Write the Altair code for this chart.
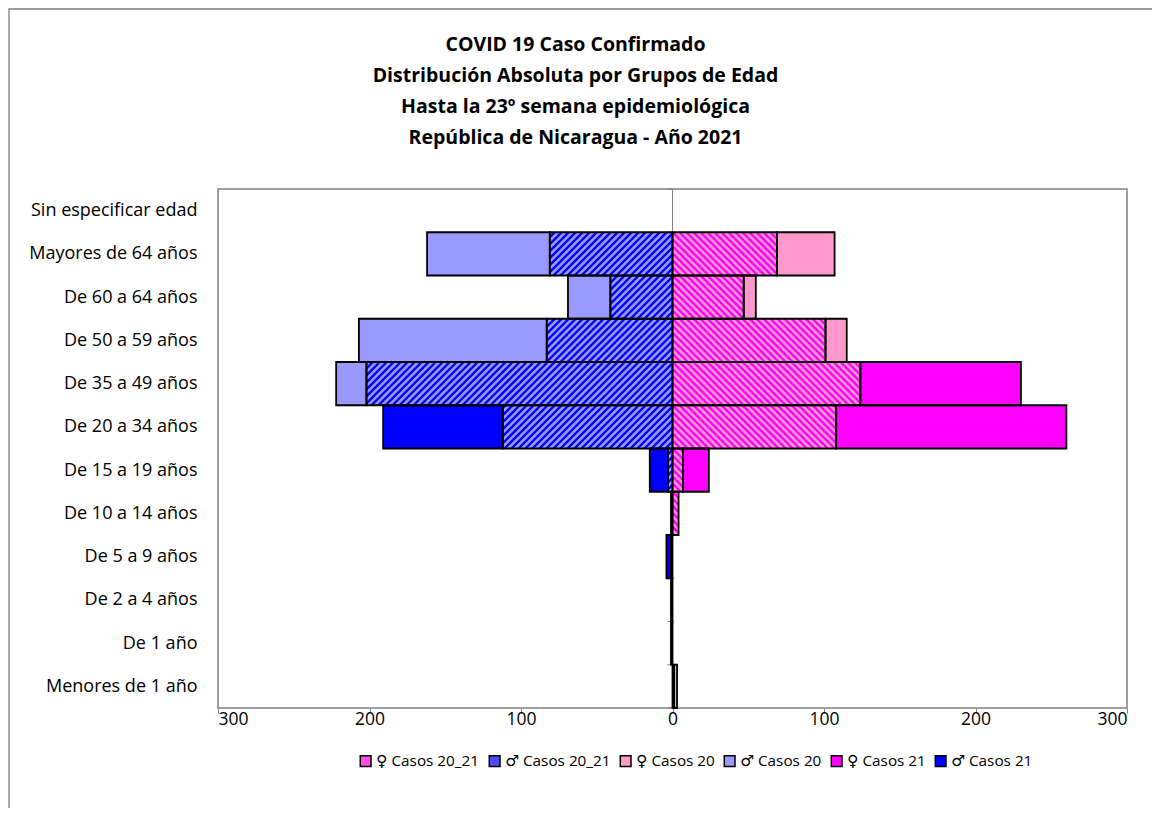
import json
import altair as alt
import pandas as pd

# ---------------- data ----------------
ages = ["Menores de 1 año", "De 1 año", "De 2 a 4 años", "De 5 a 9 años",
        "De 10 a 14 años", "De 15 a 19 años", "De 20 a 34 años", "De 35 a 49 años",
        "De 50 a 59 años", "De 60 a 64 años", "Mayores de 64 años", "Sin especificar edad"]
fem_20_21 = [1, 0, 0, 0, 4, 7, 108, 124, 101, 47, 69, 0]
fem_20 = [2, 0, 0, 0, 0, 0, 0, 0, 14, 8, 38, 0]
fem_21 = [0, 0, 0, 0, 0, 17, 152, 106, 0, 0, 0, 0]
mal_20_21 = [0, 1, 1, 1, 1, 3, 112, 202, 83, 41, 81, 0]
mal_20 = [0, 0, 0, 0, 0, 0, 0, 20, 124, 28, 81, 0]
mal_21 = [0, 0, 0, 3, 0, 12, 79, 0, 0, 0, 0, 0]

legend_order = ["♀ Casos 20_21", "♂ Casos 20_21", "♀ Casos 20", "♂ Casos 20",
                "♀ Casos 21", "♂ Casos 21"]
legend_colors = ["#FF4DE6", "#4D4DFF", "#FF99CC", "#9999FF", "#FF00FF", "#0000FF"]

title_lines = ["COVID 19 Caso Confirmado",
               "Distribución Absoluta por Grupos de Edad",
               "Hasta la 23º semana epidemiológica",
               "República de Nicaragua - Año 2021"]
x_ticks = [-300, -200, -100, 0, 100, 200, 300]

# ---------------- table ----------------
rows = []
for i, age in enumerate(ages):
    for sex, sign, groups in [
        ("F", 1, [("h", "♀ Casos 20_21", fem_20_21), ("c20", "♀ Casos 20", fem_20), ("c21", "♀ Casos 21", fem_21)]),
        ("M", -1, [("h", "♂ Casos 20_21", mal_20_21), ("c20", "♂ Casos 20", mal_20), ("c21", "♂ Casos 21", mal_21)]),
    ]:
        start = 0
        for kind, name, vals in groups:
            v = vals[i]
            if v > 0:
                a, b = sign * start, sign * (start + v)
                rows.append(dict(i=i, age=age, sex=sex, kind=kind, series=name,
                                 lo=min(a, b), hi=max(a, b)))
            start += v
df = pd.DataFrame(rows)

W, H = 909, 519
FONT = "Open Sans, DejaVu Sans"
xscale = alt.Scale(domain=[-300, 300], nice=False, zero=False)
yscale = alt.Scale(domain=[-0.5, 11.5], nice=False, zero=False)
D = (H / 12.0) / (W / 600.0)   # 45 degree hatch run in x units
S = 7.0 / (W / 600.0)          # hatch spacing in x units

label_expr = json.dumps(ages) + "[datum.value]"

base = alt.Chart(df).transform_calculate(y0="datum.i - 0.5", y1="datum.i + 0.5")

bars = base.mark_rect(strokeWidth=0).encode(
    x=alt.X("lo:Q", scale=xscale, title=None,
            axis=alt.Axis(values=x_ticks, labelExpr="abs(datum.value)", grid=False,
                          domain=False, ticks=True, tickSize=5, tickColor="#808080",
                          labelFontSize=17.5, labelFont=FONT, labelColor="black",
                          labelPadding=-3)),
    x2="hi:Q",
    y=alt.Y("y0:Q", scale=yscale, title=None,
            axis=alt.Axis(values=list(range(12)), labelExpr=label_expr, grid=False,
                          domain=False, ticks=False, labelFontSize=18, labelFont=FONT,
                          labelColor="black", labelPadding=21)),
    y2="y1:Q",
    fill=alt.Fill("series:N",
                  scale=alt.Scale(domain=legend_order, range=legend_colors),
                  legend=alt.Legend(title=None, orient="none", legendX=140, legendY=564,
                                    direction="horizontal", columns=6, symbolType="square",
                                    symbolSize=115, symbolStrokeColor="black",
                                    symbolStrokeWidth=1.5, labelFontSize=15.3, labelFont=FONT,
                                    labelColor="black", columnPadding=6, labelLimit=300,
                                    symbolOffset=0, labelOffset=3),
                  condition=[{"test": "datum.kind == 'h' && datum.sex == 'M'", "value": "#9999FF"},
                             {"test": "datum.kind == 'h' && datum.sex == 'F'", "value": "#FF99CC"}]),
)

hatch = base.transform_filter("datum.kind == 'h'").transform_calculate(
    offs=f"sequence(floor((datum.lo - {D})/{S})*{S}, datum.hi, {S})"
).transform_flatten(["offs"], as_=["s"]).transform_calculate(
    ya="datum.sex == 'M' ? datum.i - 0.5 : datum.i + 0.5",
    yb="datum.sex == 'M' ? datum.i + 0.5 : datum.i - 0.5",
    xs="max(datum.s, datum.lo)",
    xe=f"min(datum.s + {D}, datum.hi)",
).transform_filter("datum.xs < datum.xe").transform_calculate(
    sy1=f"datum.ya + (datum.xs - datum.s) / {D} * (datum.yb - datum.ya)",
    sy2=f"datum.ya + (datum.xe - datum.s) / {D} * (datum.yb - datum.ya)",
).mark_rule(strokeWidth=2.4).encode(
    x=alt.X("xs:Q", scale=xscale, title=None),
    x2="xe:Q",
    y=alt.Y("sy1:Q", scale=yscale, title=None),
    y2="sy2:Q",
    stroke=alt.Stroke("sex:N", scale=alt.Scale(domain=["M", "F"], range=["#0000FF", "#FF00FF"]),
                      legend=None),
)

outlines = base.mark_rect(fillOpacity=0, stroke="black", strokeWidth=1.8).encode(
    x=alt.X("lo:Q", scale=xscale, title=None),
    x2="hi:Q",
    y=alt.Y("y0:Q", scale=yscale, title=None),
    y2="y1:Q",
)

bounds_df = pd.DataFrame({"b": [k - 0.5 for k in range(13)]})
zero_line = alt.Chart(bounds_df).mark_rule(color="#808080", strokeWidth=1).encode(
    x=alt.datum(0, scale=xscale),
    y=alt.datum(-0.5, scale=yscale),
    y2=alt.datum(11.5),
)
zero_ticks = alt.Chart(bounds_df).mark_rule(color="#808080", strokeWidth=1, xOffset=-5).encode(
    x=alt.datum(0),
    x2=alt.datum(0),
    y=alt.Y("b:Q", scale=yscale, title=None),
)

frame = alt.Chart(pd.DataFrame({"a": [0]})).mark_rect(
    fillOpacity=0, stroke="#808080", strokeWidth=1.3, clip=False
).encode(
    x=alt.value(-209), x2=alt.value(W + 60),
    y=alt.value(-180), y2=alt.value(H + 140),
)

chart = alt.layer(frame, zero_line, zero_ticks, bars, hatch, outlines).properties(
    width=W, height=H,
    autosize=alt.AutoSizeParams(type="none"),
    padding={"left": 210, "top": 181, "right": 25, "bottom": 100},
    title=alt.TitleParams(text=title_lines, fontSize=19.5, font=FONT, fontWeight="bold",
                          color="black", anchor="middle", frame="group", lineHeight=31,
                          dx=-97, offset=0, dy=140),
).configure(background="white").configure_view(stroke="#808080", strokeWidth=1.5)

chart.save("out.html", embed_options={"renderer": "svg", "actions": False})
